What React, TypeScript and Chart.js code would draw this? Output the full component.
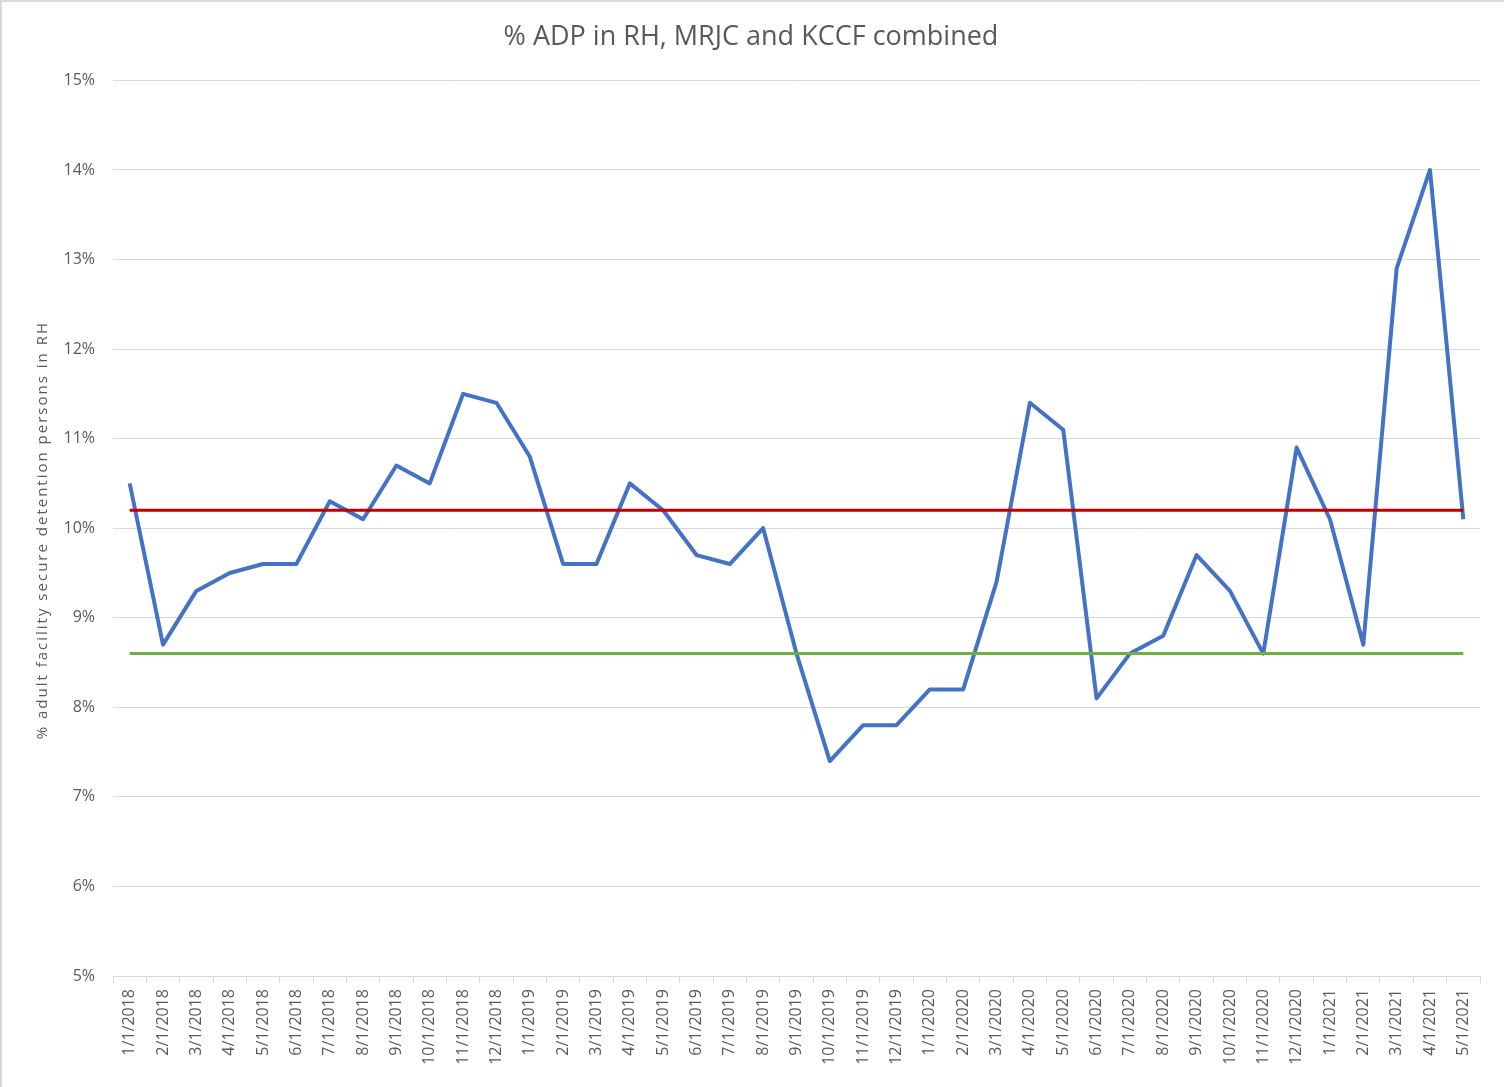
import React, { useEffect, useRef } from "react";
import { Chart, registerables } from "chart.js";

Chart.register(...registerables);

const labels = [
  "1/1/2018", "2/1/2018", "3/1/2018", "4/1/2018", "5/1/2018", "6/1/2018", "7/1/2018", "8/1/2018", "9/1/2018", "10/1/2018", "11/1/2018", "12/1/2018",
  "1/1/2019", "2/1/2019", "3/1/2019", "4/1/2019", "5/1/2019", "6/1/2019", "7/1/2019", "8/1/2019", "9/1/2019", "10/1/2019", "11/1/2019", "12/1/2019",
  "1/1/2020", "2/1/2020", "3/1/2020", "4/1/2020", "5/1/2020", "6/1/2020", "7/1/2020", "8/1/2020", "9/1/2020", "10/1/2020", "11/1/2020", "12/1/2020",
  "1/1/2021", "2/1/2021", "3/1/2021", "4/1/2021", "5/1/2021",
];

const pctRH = [
  10.5, 8.7, 9.3, 9.5, 9.6, 9.6, 10.3, 10.1, 10.7, 10.5, 11.5, 11.4,
  10.8, 9.6, 9.6, 10.5, 10.2, 9.7, 9.6, 10.0, 8.6, 7.4, 7.8, 7.8,
  8.2, 8.2, 9.4, 11.4, 11.1, 8.1, 8.6, 8.8, 9.7, 9.3, 8.6, 10.9,
  10.1, 8.7, 12.9, 14.0, 10.1,
];

const upperLine = [
  10.2, 10.2, 10.2, 10.2, 10.2, 10.2, 10.2, 10.2, 10.2, 10.2, 10.2, 10.2,
  10.2, 10.2, 10.2, 10.2, 10.2, 10.2, 10.2, 10.2, 10.2, 10.2, 10.2, 10.2,
  10.2, 10.2, 10.2, 10.2, 10.2, 10.2, 10.2, 10.2, 10.2, 10.2, 10.2, 10.2,
  10.2, 10.2, 10.2, 10.2, 10.2,
];

const lowerLine = [
  8.6, 8.6, 8.6, 8.6, 8.6, 8.6, 8.6, 8.6, 8.6, 8.6, 8.6, 8.6,
  8.6, 8.6, 8.6, 8.6, 8.6, 8.6, 8.6, 8.6, 8.6, 8.6, 8.6, 8.6,
  8.6, 8.6, 8.6, 8.6, 8.6, 8.6, 8.6, 8.6, 8.6, 8.6, 8.6, 8.6,
  8.6, 8.6, 8.6, 8.6, 8.6,
];

const yMin = 5;
const yMax = 15;
const yStep = 1;

const titleText = "% ADP in RH, MRJC and KCCF combined";
const yTitleText = "% adult facility secure detention persons in RH";

const FONT = "'Open Sans', 'Liberation Sans', sans-serif";

const yTitlePlugin = {
  id: "yTitleSpaced",
  afterDraw(chart: any) {
    const { ctx, chartArea } = chart;
    ctx.save();
    ctx.fillStyle = "#595959";
    ctx.font = `15px ${FONT}`;
    try {
      (ctx as any).letterSpacing = "2px";
    } catch (e) {}
    ctx.textAlign = "center";
    ctx.textBaseline = "middle";
    ctx.translate(41, (chartArea.top + chartArea.bottom) / 2 + 2);
    ctx.rotate(-Math.PI / 2);
    ctx.fillText(yTitleText, 0, 0);
    ctx.restore();
  },
};

export default function App() {
  const ref = useRef<HTMLCanvasElement | null>(null);

  useEffect(() => {
    if (!ref.current) return;
    const chart = new Chart(ref.current, {
      type: "line",
      data: {
        labels,
        datasets: [
          {
            label: "upper",
            data: upperLine,
            borderColor: "#C00000",
            borderWidth: 3,
            pointRadius: 0,
            tension: 0,
          },
          {
            label: "lower",
            data: lowerLine,
            borderColor: "#70AD47",
            borderWidth: 3,
            pointRadius: 0,
            tension: 0,
          },
          {
            label: "% ADP",
            data: pctRH,
            borderColor: "#4472C4",
            borderWidth: 4,
            pointRadius: 0,
            tension: 0,
            borderJoinStyle: "round",
          },
        ],
      },
      options: {
        animation: false,
        responsive: false,
        maintainAspectRatio: false,
        layout: { padding: { left: 20, right: 24, top: 0, bottom: 0 } },
        plugins: {
          legend: { display: false },
          tooltip: { enabled: false },
          title: {
            display: true,
            text: titleText,
            color: "#595959",
            font: { family: FONT, size: 27, weight: "normal" },
            padding: { top: 19, bottom: 27 },
          },
        },
        scales: {
          x: {
            offset: true,
            grid: {
              offset: true,
              drawOnChartArea: false,
              drawTicks: true,
              tickLength: 7,
              color: "#d9d9d9",
            },
            border: { display: true, color: "#d9d9d9", width: 1 },
            ticks: {
              autoSkip: false,
              maxRotation: 90,
              minRotation: 90,
              color: "#595959",
              font: { family: FONT, size: 16 },
              padding: 6,
            },
            afterFit: (scale: any) => {
              scale.height = 111;
            },
          },
          y: {
            min: yMin,
            max: yMax,
            ticks: {
              stepSize: yStep,
              color: "#595959",
              font: { family: FONT, size: 16 },
              padding: 18,
              callback: (v: any) => v + "%",
            },
            grid: { color: "#d9d9d9", drawTicks: false, lineWidth: 1 },
            border: { display: false },
            afterFit: (scale: any) => {
              scale.width = 91;
            },
          },
        },
      },
      plugins: [yTitlePlugin],
    });
    return () => chart.destroy();
  }, []);

  return (
    <div
      style={{
        position: "fixed",
        left: 0,
        top: 0,
        width: 1504,
        height: 1087,
        background: "#fff",
        boxSizing: "border-box",
        border: "2px solid #d9d9d9",
        borderRight: "none",
        borderBottom: "none",
      }}
    >
      <canvas ref={ref} width={1502} height={1085} style={{ display: "block" }} />
    </div>
  );
}
